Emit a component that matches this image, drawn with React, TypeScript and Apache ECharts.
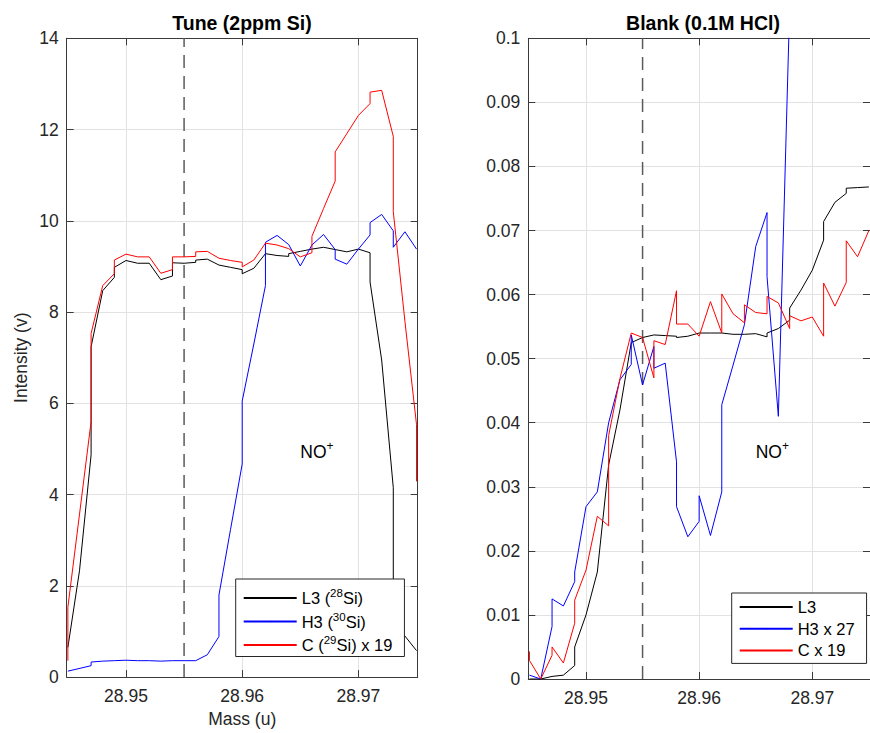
import React, { useEffect, useRef } from 'react';
import * as echarts from 'echarts';

// ---------- Data: Tune (2ppm Si) ----------
const tuneL3Mass = [28.945, 28.946, 28.947, 28.947, 28.948, 28.949, 28.949, 28.95, 28.951, 28.952, 28.953, 28.954, 28.954, 28.955, 28.956, 28.956, 28.957, 28.958, 28.959, 28.96, 28.96, 28.961, 28.962, 28.963, 28.964, 28.964, 28.965, 28.966, 28.967, 28.968, 28.969, 28.97, 28.971, 28.971, 28.972, 28.973, 28.973, 28.974, 28.975];
const tuneL3 = [0.65, 2.33, 4.87, 7.24, 8.47, 8.76, 8.98, 9.13, 9.07, 9.07, 8.71, 8.79, 9.08, 9.07, 9.09, 9.14, 9.16, 9.03, 8.98, 8.93, 8.84, 8.96, 9.28, 9.24, 9.22, 9.28, 9.33, 9.38, 9.42, 9.37, 9.32, 9.38, 9.3, 8.66, 6.95, 4.15, 1.15, 0.9, 0.58];

const tuneH3Mass = [28.945, 28.947, 28.947, 28.948, 28.949, 28.95, 28.951, 28.952, 28.953, 28.954, 28.955, 28.956, 28.957, 28.958, 28.958, 28.959, 28.96, 28.96, 28.961, 28.962, 28.962, 28.963, 28.964, 28.965, 28.966, 28.967, 28.968, 28.968, 28.969, 28.97, 28.971, 28.971, 28.972, 28.973, 28.973, 28.974, 28.975];
const tuneH3 = [0.13, 0.25, 0.33, 0.35, 0.36, 0.37, 0.36, 0.36, 0.35, 0.36, 0.36, 0.36, 0.49, 0.89, 1.8, 3.24, 4.67, 6.05, 7.3, 8.58, 9.53, 9.68, 9.48, 9.01, 9.47, 9.7, 9.37, 9.16, 9.05, 9.38, 9.69, 9.96, 10.14, 9.78, 9.42, 9.76, 9.38];

const tuneCMass = [28.945, 28.945, 28.947, 28.947, 28.948, 28.949, 28.949, 28.95, 28.951, 28.952, 28.953, 28.954, 28.954, 28.955, 28.956, 28.956, 28.957, 28.958, 28.959, 28.96, 28.96, 28.961, 28.962, 28.963, 28.964, 28.965, 28.966, 28.966, 28.967, 28.968, 28.968, 28.969, 28.97, 28.971, 28.971, 28.972, 28.973, 28.973, 28.974, 28.975, 28.975];
const tuneC = [0.36, 1.53, 5.6, 7.53, 8.58, 8.84, 9.14, 9.27, 9.21, 9.21, 8.85, 8.93, 9.21, 9.21, 9.22, 9.32, 9.33, 9.18, 9.13, 9.09, 8.99, 9.14, 9.51, 9.47, 9.39, 9.21, 9.3, 9.66, 10.27, 10.87, 11.51, 11.91, 12.31, 12.57, 12.82, 12.86, 11.85, 10.2, 7.8, 5.53, 4.29];

// ---------- Data: Blank (0.1M HCl) ----------
const blankL3Mass = [28.945, 28.946, 28.947, 28.948, 28.949, 28.949, 28.95, 28.951, 28.952, 28.953, 28.954, 28.955, 28.956, 28.957, 28.958, 28.958, 28.959, 28.96, 28.961, 28.962, 28.963, 28.964, 28.965, 28.966, 28.966, 28.967, 28.968, 28.968, 28.969, 28.97, 28.971, 28.971, 28.972, 28.973, 28.973, 28.974, 28.975];
const blankL3 = [0.0, 0.0, 0.0004, 0.0006, 0.0021, 0.005, 0.01, 0.0167, 0.0334, 0.042, 0.0525, 0.0533, 0.0537, 0.0536, 0.0535, 0.0533, 0.0535, 0.054, 0.054, 0.054, 0.0538, 0.0538, 0.0539, 0.0534, 0.054, 0.0547, 0.056, 0.0579, 0.0607, 0.0638, 0.0685, 0.0714, 0.0744, 0.0758, 0.0766, 0.0767, 0.0768];

const blankH3Mass = [28.945, 28.946, 28.947, 28.947, 28.948, 28.949, 28.949, 28.95, 28.951, 28.952, 28.953, 28.954, 28.954, 28.955, 28.956, 28.956, 28.957, 28.958, 28.958, 28.959, 28.96, 28.96, 28.961, 28.962, 28.962, 28.963, 28.964, 28.965, 28.966, 28.966, 28.967, 28.968];
const blankH3 = [0.0006, 0.0, 0.0082, 0.0125, 0.0114, 0.0152, 0.0167, 0.0269, 0.0292, 0.04, 0.0467, 0.0491, 0.0537, 0.0459, 0.0519, 0.0485, 0.0493, 0.0339, 0.0269, 0.0222, 0.0246, 0.0286, 0.0224, 0.0292, 0.0428, 0.049, 0.0553, 0.0675, 0.0728, 0.0628, 0.041, 0.105];

const blankCMass = [28.945, 28.945, 28.946, 28.947, 28.947, 28.948, 28.949, 28.949, 28.95, 28.951, 28.952, 28.952, 28.953, 28.954, 28.955, 28.956, 28.956, 28.957, 28.958, 28.958, 28.959, 28.96, 28.961, 28.962, 28.962, 28.963, 28.964, 28.964, 28.965, 28.966, 28.966, 28.967, 28.968, 28.968, 28.969, 28.97, 28.971, 28.971, 28.972, 28.973, 28.973, 28.974, 28.975];
const blankC = [0.0043, 0.0029, 0.0, 0.0037, 0.005, 0.0025, 0.0087, 0.0123, 0.017, 0.0254, 0.0239, 0.038, 0.0469, 0.054, 0.0533, 0.047, 0.0528, 0.0522, 0.0606, 0.0554, 0.0554, 0.0535, 0.0589, 0.054, 0.0601, 0.057, 0.0556, 0.0584, 0.0572, 0.057, 0.0597, 0.0587, 0.0547, 0.0567, 0.0559, 0.0565, 0.0535, 0.0618, 0.0582, 0.0619, 0.0684, 0.0659, 0.07];

// ---------- Axes / labels ----------
const massTicks = [28.95, 28.96, 28.97];
const massRange = [28.9449, 28.9751];
const tuneYRange = [0, 14];
const tuneYStep = 2;
const blankYRange = [0, 0.1];
const blankYStep = 0.01;
const markerMass = 28.955;
const noLabelTune = [28.965, 4.94];
const noLabelBlank = [28.965, 0.0355];

const titles = ['Tune (2ppm Si)', 'Blank (0.1M HCl)'];
const tuneNames = ['L3 (28Si)', 'H3 (30Si)', 'C (29Si) x 19'];
const tuneRich = ['{n|L3 (}{s|28}{n|Si)}', '{n|H3 (}{s|30}{n|Si)}', '{n|C (}{s|29}{n|Si) x 19}'];
const blankNames = ['L3', 'H3 x 27', 'C x 19'];
const colors = ['#000000', '#0000ff', '#ff0000'];

const FONT = '"Liberation Sans", Arial, Helvetica, sans-serif';
const AXIS_COLOR = '#3a3a3a';
const TEXT_COLOR = '#262626';
const GRID_COLOR = '#e2e2e2';

const pairs = (m: number[], v: number[]) => m.map((x, i) => [x, v[i]]);

function bottomX(gridIndex: number, name: string) {
  return {
    type: 'value', gridIndex, min: massRange[0], max: massRange[1], position: 'bottom',
    axisLine: { show: true, onZero: false, lineStyle: { color: AXIS_COLOR, width: 1 } },
    axisTick: { show: true, inside: true, length: 7, customValues: massTicks, lineStyle: { color: AXIS_COLOR } },
    axisLabel: { show: true, customValues: massTicks, margin: 10, color: TEXT_COLOR, fontSize: 17.5, fontFamily: FONT, formatter: (v: number) => v.toFixed(2) },
    splitLine: { show: true, lineStyle: { color: GRID_COLOR, width: 1 } },
    name, nameLocation: 'middle', nameGap: 31,
    nameTextStyle: { color: TEXT_COLOR, fontSize: 17.5, fontFamily: FONT },
  };
}
function topX(gridIndex: number) {
  return {
    type: 'value', gridIndex, min: massRange[0], max: massRange[1], position: 'top',
    axisLine: { show: true, onZero: false, lineStyle: { color: AXIS_COLOR, width: 1 } },
    axisTick: { show: true, inside: true, length: 7, customValues: massTicks, lineStyle: { color: AXIS_COLOR } },
    axisLabel: { show: false },
    splitLine: { show: false },
  };
}
function leftY(gridIndex: number, range: number[], step: number, name: string) {
  return {
    type: 'value', gridIndex, min: range[0], max: range[1], interval: step, position: 'left',
    axisLine: { show: true, onZero: false, lineStyle: { color: AXIS_COLOR, width: 1 } },
    axisTick: { show: true, inside: true, length: 7, lineStyle: { color: AXIS_COLOR } },
    axisLabel: { show: true, margin: 8, color: TEXT_COLOR, fontSize: 17.5, fontFamily: FONT },
    splitLine: { show: true, lineStyle: { color: GRID_COLOR, width: 1 } },
    name, nameLocation: 'middle', nameGap: 37, nameRotate: 90,
    nameTextStyle: { color: TEXT_COLOR, fontSize: 17.5, fontFamily: FONT },
  };
}
function rightY(gridIndex: number, range: number[], step: number) {
  return {
    type: 'value', gridIndex, min: range[0], max: range[1], interval: step, position: 'right',
    axisLine: { show: true, onZero: false, lineStyle: { color: AXIS_COLOR, width: 1 } },
    axisTick: { show: true, inside: true, length: 7, lineStyle: { color: AXIS_COLOR } },
    axisLabel: { show: false },
    splitLine: { show: false },
  };
}

function noMark(coord: number[]) {
  return {
    silent: true, symbol: 'circle', symbolSize: 0,
    data: [{ coord }],
    label: {
      show: true, position: 'right', distance: 0, formatter: '{n|NO}{s|+}',
      rich: {
        n: { fontSize: 17.5, fontFamily: FONT, color: '#000', lineHeight: 24 },
        s: { fontSize: 12, fontFamily: FONT, color: '#000', verticalAlign: 'top' },
      },
    },
  };
}

function lineSeries(name: string, m: number[], v: number[], color: string, idx: number, extra: any = {}) {
  return {
    type: 'line', name, xAxisIndex: idx * 2, yAxisIndex: idx * 2, data: pairs(m, v),
    symbol: 'none', showSymbol: false, clip: true,
    lineStyle: { color, width: 1 }, itemStyle: { color },
    emphasis: { disabled: true },
    ...extra,
  };
}

function dashedSeries(idx: number, range: number[]) {
  return {
    type: 'line', xAxisIndex: idx * 2, yAxisIndex: idx * 2,
    data: [[markerMass, range[0]], [markerMass, range[1]]],
    symbol: 'none', showSymbol: false, silent: true, z: 1,
    lineStyle: { type: [13, 8], color: '#5a5a5a', width: 1.5 },
    itemStyle: { color: '#5a5a5a' },
    emphasis: { disabled: true },
  };
}

export default function App() {
  const ref = useRef<HTMLDivElement>(null);
  useEffect(() => {
    document.body.style.margin = '0';
    if (!ref.current) return;
    const chart = echarts.init(ref.current, undefined, { renderer: 'svg' });
    const option: any = {
      animation: false,
      backgroundColor: '#ffffff',
      title: [
        { text: titles[0], left: 242, top: 13, textAlign: 'center', padding: 0, textStyle: { fontSize: 19.5, fontWeight: 'bold', fontFamily: FONT, color: '#000' } },
        { text: titles[1], left: 703, top: 13, textAlign: 'center', padding: 0, textStyle: { fontSize: 19.5, fontWeight: 'bold', fontFamily: FONT, color: '#000' } },
      ],
      grid: [
        { left: 66.7, top: 38.3, width: 351, height: 640.7 },
        { left: 528.3, top: 38.3, width: 351, height: 640.7 },
      ],
      xAxis: [bottomX(0, 'Mass (u)'), topX(0), bottomX(1, ''), topX(1)],
      yAxis: [
        leftY(0, tuneYRange, tuneYStep, 'Intensity (v)'), rightY(0, tuneYRange, tuneYStep),
        leftY(1, blankYRange, blankYStep, ''), rightY(1, blankYRange, blankYStep),
      ],
      legend: [
        {
          data: tuneNames, orient: 'vertical', left: 235.7, top: 579,
          itemWidth: 53, itemHeight: 1.5, itemGap: 4, padding: [8, 12, 3, 7],
          backgroundColor: '#ffffff', borderColor: '#262626', borderWidth: 1, borderRadius: 0,
          selectedMode: false,
          formatter: (name: string) => tuneRich[tuneNames.indexOf(name)],
          textStyle: {
            fontSize: 16.5, fontFamily: FONT, color: '#000',
            rich: {
              n: { fontSize: 16.5, fontFamily: FONT, color: '#000', lineHeight: 22 },
              s: { fontSize: 11.5, fontFamily: FONT, color: '#000', verticalAlign: 'top' },
            },
          },
        },
        {
          data: blankNames, orient: 'vertical', left: 731.7, top: 593,
          itemWidth: 53, itemHeight: 1.5, itemGap: 3.7, padding: [5, 12, 4, 7],
          backgroundColor: '#ffffff', borderColor: '#262626', borderWidth: 1, borderRadius: 0,
          selectedMode: false,
          textStyle: { fontSize: 16.5, fontFamily: FONT, color: '#000', lineHeight: 18 },
        },
      ],
      series: [
        lineSeries(tuneNames[0], tuneL3Mass, tuneL3, colors[0], 0, { markPoint: noMark(noLabelTune) }),
        lineSeries(tuneNames[1], tuneH3Mass, tuneH3, colors[1], 0),
        lineSeries(tuneNames[2], tuneCMass, tuneC, colors[2], 0),
        lineSeries(blankNames[0], blankL3Mass, blankL3, colors[0], 1, { markPoint: noMark(noLabelBlank) }),
        lineSeries(blankNames[1], blankH3Mass, blankH3, colors[1], 1),
        lineSeries(blankNames[2], blankCMass, blankC, colors[2], 1),
        dashedSeries(0, tuneYRange),
        dashedSeries(1, blankYRange),
      ],
    };
    chart.setOption(option);
    return () => chart.dispose();
  }, []);
  return <div ref={ref} style={{ width: 870, height: 733 }} />;
}
